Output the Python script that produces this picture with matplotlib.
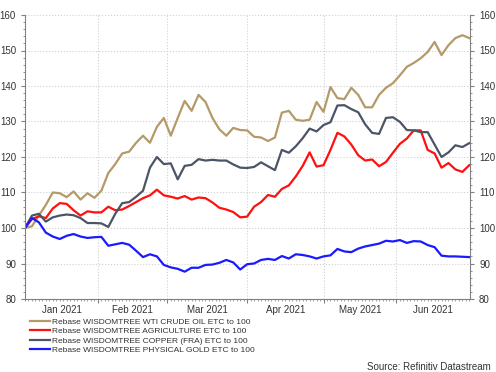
import matplotlib
matplotlib.use("Agg")
import matplotlib.pyplot as plt
from matplotlib.ticker import MultipleLocator, FixedLocator, NullFormatter
import pandas as pd

plt.rcParams["font.family"] = ["Liberation Sans", "DejaVu Sans"]

# every second weekday from 1 Jan 2021
bdays = pd.bdate_range("2021-01-01", "2021-06-30")
dates = bdays[::2]

crude = [100, 100.5, 103.5, 106.5, 110, 109.8, 108.7, 110.3, 108, 109.8,
         108.5, 110.5, 115.5, 118, 121, 121.5, 124, 126, 124, 128.5,
         131, 126, 131, 135.8, 133, 137.5, 135.5, 131, 127.8, 126,
         128.2, 127.6, 127.5, 125.7, 125.5, 124.5, 125.5, 132.5, 133, 130.5,
         130.2, 130.5, 135.5, 132.7, 139.7, 136.6, 136.3, 139.5, 137.5, 134,
         134, 137.5, 139.5, 140.8, 143, 145.4, 146.5, 147.8, 149.6, 152.4,
         148.7, 151.5, 153.5, 154.3, 153.5]
agri = [100, 102.5, 103.3, 102.8, 105.5, 107, 106.8, 105, 103.5, 104.7,
        104.4, 104.4, 106, 105, 105.2, 106.2, 107.3, 108.4, 109.2, 110.8,
        109.2, 108.8, 108.3, 109, 108, 108.6, 108.4, 107.2, 105.7, 105.2,
        104.5, 103, 103.2, 106, 107.3, 109.3, 108.8, 111, 112, 114.5,
        117.5, 121.3, 117.3, 117.7, 122, 126.8, 125.8, 123.5, 120.5, 119,
        119.3, 117.4, 118.6, 121.2, 123.7, 125.2, 127.5, 127.5, 122, 121,
        117, 118.3, 116.5, 115.8, 117.7]
copper = [100, 103.5, 104, 101.8, 103, 103.5, 103.8, 103.6, 102.8, 101.4,
          101.4, 101.3, 100.3, 104, 107, 107.3, 108.8, 110.5, 117, 120,
          118, 118.2, 113.7, 117.5, 117.8, 119.4, 119, 119.2, 119, 119,
          117.9, 117, 116.9, 117.2, 118.5, 117.4, 116.3, 122, 121.2, 123,
          125.3, 128, 127.2, 129, 129.8, 134.5, 134.6, 133.5, 132.6, 129.2,
          126.8, 126.5, 131, 131.2, 129.9, 127.6, 127.5, 127, 127, 123.5,
          120, 121.3, 123.3, 122.8, 123.9]
gold = [100, 102.8, 101.6, 98.7, 97.6, 96.9, 97.8, 98.3, 97.6, 97.2,
        97.4, 97.5, 95, 95.4, 95.8, 95.3, 93.6, 91.8, 92.6, 92,
        89.6, 88.9, 88.5, 87.7, 88.8, 88.8, 89.6, 89.7, 90.2, 91,
        90.3, 88.3, 89.8, 90, 91, 91.3, 91, 92.1, 91.4, 92.6,
        92.4, 92, 91.4, 92, 92.3, 94.1, 93.4, 93.2, 94.2, 94.8,
        95.2, 95.6, 96.4, 96.2, 96.6, 95.8, 96.3, 96.2, 95.2, 94.6,
        92.2, 92, 92, 91.9, 91.8]

series = [
    ("Rebase WISDOMTREE WTI CRUDE OIL ETC to 100", crude, "#b49a68"),
    ("Rebase WISDOMTREE AGRICULTURE ETC to 100", agri, "#ff1010"),
    ("Rebase WISDOMTREE COPPER (FRA) ETC to 100", copper, "#4b5566"),
    ("Rebase WISDOMTREE PHYSICAL GOLD ETC to 100", gold, "#1a1aff"),
]
month_labels = ["Jan 2021", "Feb 2021", "Mar 2021", "Apr 2021", "May 2021", "Jun 2021"]

x = bdays.get_indexer(dates)
month_starts = [i for i in range(len(bdays)) if i == 0 or bdays[i].month != bdays[i - 1].month]
x_end = 128.2
bounds = month_starts + [x_end]
month_mids = [(bounds[i] + bounds[i + 1]) / 2 for i in range(len(month_starts))]

fig = plt.figure(figsize=(4.96, 3.72), dpi=100)
ax = fig.add_axes([25 / 496, 1 - 299 / 372, 445 / 496, 284 / 372])

for label, vals, col in series:
    ax.plot(x, vals, color=col, lw=1.6, label=label, solid_joinstyle="round")

ax.set_xlim(0, x_end)
ax.set_ylim(80, 160)
ax.yaxis.set_major_locator(MultipleLocator(10))
ax.yaxis.set_minor_locator(MultipleLocator(2))
ax.xaxis.set_major_locator(FixedLocator(month_starts[1:]))
ax.xaxis.set_major_formatter(NullFormatter())
ax.xaxis.set_minor_locator(MultipleLocator(1))

ax.grid(True, which="major", color="#d0d0d0", ls=":", lw=0.8)
ax.spines["top"].set_visible(False)
for s in ["left", "right", "bottom"]:
    ax.spines[s].set_color("#808080")
    ax.spines[s].set_linewidth(0.8)

ax.tick_params(axis="y", which="both", left=True, right=True, labelleft=True,
               labelright=True, labelsize=7, colors="#808080", labelcolor="#333333")
ax.tick_params(axis="y", which="major", length=3, width=0.8)
ax.tick_params(axis="y", which="minor", length=1.5, width=0.6)
ax.tick_params(axis="x", which="major", length=3, width=0.8, colors="#808080")
ax.tick_params(axis="x", which="minor", length=1.5, width=0.5, colors="#808080")

sec = ax.secondary_xaxis("bottom")
sec.set_xticks(month_mids)
sec.set_xticklabels(month_labels)
sec.tick_params(length=0, labelsize=7, labelcolor="#333333", pad=4)
sec.spines["bottom"].set_visible(False)

fig.legend(loc="upper left", bbox_to_anchor=(30 / 496, 1 - 318 / 372), frameon=False,
           fontsize=6.0, handlelength=2.4, handletextpad=0.25, labelspacing=0.2,
           borderpad=0, borderaxespad=0, labelcolor="#333333")

fig.text(491 / 496, 1 - 367 / 372, "Source: Refinitiv Datastream", ha="right", va="center",
         fontsize=7, color="#333333")

fig.savefig("out.png", dpi=100)
